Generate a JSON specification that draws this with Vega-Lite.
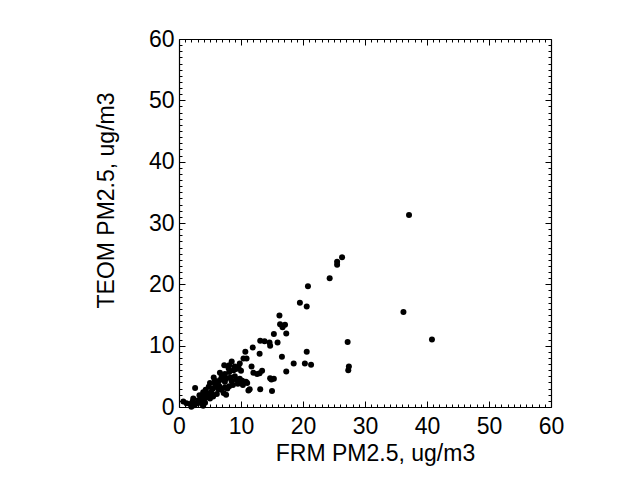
{
  "$schema": "https://vega.github.io/schema/vega-lite/v6.json",
  "width": 372,
  "height": 368,
  "autosize": "none",
  "padding": {"left": 179, "top": 39, "right": 90, "bottom": 71},
  "background": "white",
  "config": {
    "view": {"stroke": null},
    "font": "Liberation Sans",
    "axis": {
      "labelFont": "Liberation Sans",
      "titleFont": "Liberation Sans",
      "labelFontSize": 23,
      "titleFontSize": 23,
      "labelColor": "black",
      "titleColor": "black",
      "titleFontWeight": "normal",
      "domainColor": "black",
      "domainWidth": 1.2,
      "tickColor": "black",
      "tickWidth": 1,
      "grid": false,
      "labelFlush": false,
      "labelOverlap": false
    }
  },
  "data": {"values": [
    {"frm": 37.1, "teom": 31.3}, {"frm": 26.3, "teom": 24.4}, {"frm": 25.5, "teom": 23.7}, {"frm": 25.5, "teom": 23.2},
    {"frm": 24.3, "teom": 21.0}, {"frm": 20.8, "teom": 19.7}, {"frm": 19.5, "teom": 17.0}, {"frm": 20.6, "teom": 16.4},
    {"frm": 36.2, "teom": 15.5}, {"frm": 16.2, "teom": 14.9}, {"frm": 16.3, "teom": 13.5}, {"frm": 17.1, "teom": 13.4},
    {"frm": 16.7, "teom": 13.0}, {"frm": 17.3, "teom": 12.0}, {"frm": 15.3, "teom": 11.9}, {"frm": 14.6, "teom": 10.5},
    {"frm": 15.9, "teom": 10.5}, {"frm": 27.2, "teom": 10.6}, {"frm": 40.8, "teom": 11.0}, {"frm": 20.6, "teom": 9.0},
    {"frm": 16.6, "teom": 8.2}, {"frm": 18.5, "teom": 7.1}, {"frm": 20.3, "teom": 7.1}, {"frm": 21.3, "teom": 6.9},
    {"frm": 27.4, "teom": 6.6}, {"frm": 27.3, "teom": 6.0}, {"frm": 17.3, "teom": 5.8},
    {"frm": 13.1, "teom": 10.8}, {"frm": 13.8, "teom": 10.7}, {"frm": 14.7, "teom": 10.0}, {"frm": 11.9, "teom": 9.7},
    {"frm": 10.7, "teom": 9.0}, {"frm": 13.0, "teom": 8.7}, {"frm": 10.9, "teom": 7.9}, {"frm": 10.4, "teom": 7.9},
    {"frm": 8.5, "teom": 7.4}, {"frm": 7.3, "teom": 6.8}, {"frm": 8.1, "teom": 6.8}, {"frm": 9.0, "teom": 6.6},
    {"frm": 9.6, "teom": 6.4}, {"frm": 10.0, "teom": 5.9}, {"frm": 8.8, "teom": 6.0}, {"frm": 11.7, "teom": 6.6},
    {"frm": 13.4, "teom": 5.9}, {"frm": 13.0, "teom": 5.5}, {"frm": 12.6, "teom": 5.4}, {"frm": 12.0, "teom": 5.6},
    {"frm": 6.6, "teom": 5.6}, {"frm": 7.4, "teom": 5.4}, {"frm": 8.1, "teom": 5.7}, {"frm": 5.8, "teom": 4.3},
    {"frm": 6.6, "teom": 4.4}, {"frm": 7.4, "teom": 4.1}, {"frm": 8.5, "teom": 4.2}, {"frm": 9.3, "teom": 4.4},
    {"frm": 10.0, "teom": 4.0}, {"frm": 10.8, "teom": 4.1}, {"frm": 5.0, "teom": 3.9}, {"frm": 5.8, "teom": 3.8},
    {"frm": 6.5, "teom": 3.4}, {"frm": 7.4, "teom": 3.2}, {"frm": 8.1, "teom": 3.4}, {"frm": 14.7, "teom": 4.7},
    {"frm": 14.9, "teom": 4.5}, {"frm": 15.3, "teom": 4.6}, {"frm": 11.4, "teom": 2.9}, {"frm": 11.2, "teom": 2.7},
    {"frm": 13.1, "teom": 2.9}, {"frm": 15.0, "teom": 2.6}, {"frm": 3.9, "teom": 2.4}, {"frm": 4.7, "teom": 2.2},
    {"frm": 5.4, "teom": 2.0}, {"frm": 6.1, "teom": 2.1}, {"frm": 7.2, "teom": 2.3}, {"frm": 2.6, "teom": 3.1},
    {"frm": 3.7, "teom": 1.7}, {"frm": 4.5, "teom": 1.6}, {"frm": 5.5, "teom": 1.7}, {"frm": 2.3, "teom": 1.4},
    {"frm": 3.1, "teom": 1.1}, {"frm": 3.9, "teom": 1.1}, {"frm": 0.7, "teom": 0.9}, {"frm": 1.8, "teom": 0.5},
    {"frm": 2.9, "teom": 0.6}, {"frm": 3.7, "teom": 0.5}, {"frm": 4.2, "teom": 0.7}, {"frm": 2.0, "teom": 0.05},
    {"frm": 3.9, "teom": 0.2},
    {"frm": 6.0, "teom": 3.5}, {"frm": 6.3, "teom": 4.0}, {"frm": 7.0, "teom": 4.6}, {"frm": 7.8, "teom": 3.0},
    {"frm": 8.3, "teom": 4.8}, {"frm": 9.0, "teom": 5.0}, {"frm": 9.5, "teom": 3.8}, {"frm": 8.7, "teom": 3.6},
    {"frm": 9.8, "teom": 4.6}, {"frm": 10.3, "teom": 3.6}, {"frm": 6.8, "teom": 2.8}, {"frm": 5.5, "teom": 3.0},
    {"frm": 5.2, "teom": 2.5}, {"frm": 4.5, "teom": 1.9}, {"frm": 4.0, "teom": 1.3}, {"frm": 3.4, "teom": 0.8},
    {"frm": 2.5, "teom": 0.3}, {"frm": 1.2, "teom": 0.6}, {"frm": 2.2, "teom": 0.9}, {"frm": 3.3, "teom": 1.9},
    {"frm": 4.3, "teom": 2.8}, {"frm": 6.4, "teom": 2.9}, {"frm": 7.6, "teom": 2.0}, {"frm": 5.0, "teom": 1.4},
    {"frm": 4.8, "teom": 3.3}, {"frm": 10.2, "teom": 4.3}, {"frm": 11.0, "teom": 3.9}, {"frm": 9.8, "teom": 7.1},
    {"frm": 9.2, "teom": 6.2}, {"frm": 8.0, "teom": 6.3}, {"frm": 6.9, "teom": 5.0}, {"frm": 7.7, "teom": 4.7},
    {"frm": 5.6, "teom": 4.8}
  ]},
  "resolve": {"axis": {"x": "independent", "y": "independent"}},
  "layer": [
    {
      "mark": {"type": "circle", "size": 36, "opacity": 1, "color": "black"},
      "encoding": {
        "x": {"field": "frm", "type": "quantitative", "scale": {"domain": [0, 60], "nice": false, "zero": false},
          "axis": {"orient": "bottom", "values": [0, 10, 20, 30, 40, 50, 60], "tickSize": -6, "labelPadding": 14,
            "title": "FRM PM2.5, ug/m3", "titlePadding": 4, "titleX": 196}},
        "y": {"field": "teom", "type": "quantitative", "scale": {"domain": [0, 60], "nice": false, "zero": false},
          "axis": {"orient": "left", "values": [0, 10, 20, 30, 40, 50, 60], "tickSize": -6, "labelPadding": 11,
            "title": "TEOM PM2.5, ug/m3", "titlePadding": 30, "titleY": 161}}
      }
    },
    {
      "mark": {"type": "circle", "opacity": 0},
      "encoding": {
        "x": {"field": "frm", "type": "quantitative",
          "axis": {"orient": "bottom", "values": [1,2,3,4,5,6,7,8,9,11,12,13,14,15,16,17,18,19,21,22,23,24,25,26,27,28,29,31,32,33,34,35,36,37,38,39,41,42,43,44,45,46,47,48,49,51,52,53,54,55,56,57,58,59],
            "tickSize": -3, "labels": false, "domain": false, "title": null}},
        "y": {"field": "teom", "type": "quantitative",
          "axis": {"orient": "left", "values": [1,2,3,4,5,6,7,8,9,11,12,13,14,15,16,17,18,19,21,22,23,24,25,26,27,28,29,31,32,33,34,35,36,37,38,39,41,42,43,44,45,46,47,48,49,51,52,53,54,55,56,57,58,59],
            "tickSize": -3, "labels": false, "domain": false, "title": null}}
      }
    },
    {
      "mark": {"type": "circle", "opacity": 0},
      "encoding": {
        "x": {"field": "frm", "type": "quantitative",
          "axis": {"orient": "top", "values": [0, 10, 20, 30, 40, 50, 60], "tickSize": -6, "labels": false, "title": null}},
        "y": {"field": "teom", "type": "quantitative",
          "axis": {"orient": "right", "values": [0, 10, 20, 30, 40, 50, 60], "tickSize": -6, "labels": false, "title": null}}
      }
    },
    {
      "mark": {"type": "circle", "opacity": 0},
      "encoding": {
        "x": {"field": "frm", "type": "quantitative",
          "axis": {"orient": "top", "values": [1,2,3,4,5,6,7,8,9,11,12,13,14,15,16,17,18,19,21,22,23,24,25,26,27,28,29,31,32,33,34,35,36,37,38,39,41,42,43,44,45,46,47,48,49,51,52,53,54,55,56,57,58,59],
            "tickSize": -3, "labels": false, "domain": false, "title": null}},
        "y": {"field": "teom", "type": "quantitative",
          "axis": {"orient": "right", "values": [1,2,3,4,5,6,7,8,9,11,12,13,14,15,16,17,18,19,21,22,23,24,25,26,27,28,29,31,32,33,34,35,36,37,38,39,41,42,43,44,45,46,47,48,49,51,52,53,54,55,56,57,58,59],
            "tickSize": -3, "labels": false, "domain": false, "title": null}}
      }
    }
  ]
}
